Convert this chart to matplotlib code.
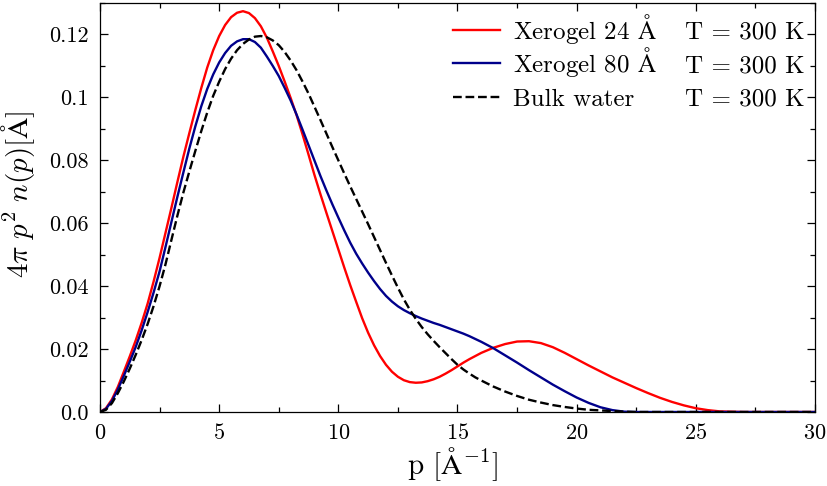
import matplotlib
matplotlib.use("Agg")
import matplotlib.pyplot as plt
from matplotlib.ticker import MultipleLocator, FixedLocator, FixedFormatter
from matplotlib.transforms import IdentityTransform

plt.rcParams['font.family'] = 'serif'
plt.rcParams['font.serif'] = ['cmr10']
plt.rcParams['mathtext.fontset'] = 'cm'
plt.rcParams['axes.formatter.use_mathtext'] = True
plt.rcParams['font.size'] = 16

# ---------------- data ----------------
p = [0.0, 0.25, 0.5, 0.75, 1.0, 1.25, 1.5, 1.75, 2.0, 2.25, 2.5, 2.75, 3.0, 3.25,
     3.5, 3.75, 4.0, 4.25, 4.5, 4.75, 5.0, 5.25, 5.5, 5.75, 6.0, 6.25, 6.5, 6.75,
     7.0, 7.25, 7.5, 7.75, 8.0, 8.25, 8.5, 8.75, 9.0, 9.25, 9.5, 9.75, 10.0,
     10.25, 10.5, 10.75, 11.0, 11.25, 11.5, 11.75, 12.0, 12.25, 12.5, 12.75,
     13.0, 13.25, 13.5, 13.75, 14.0, 14.25, 14.5, 14.75, 15.0, 15.25, 15.5,
     15.75, 16.0,
     16.5, 17.0, 17.5, 18.0, 18.5, 19.0, 19.5, 20.0, 20.5, 21.0, 21.5, 22.0,
     22.5, 23.0, 23.5, 24.0, 24.5, 25.0, 25.5, 26.0, 26.5, 27.0,
     28.0, 29.0, 30.0]

xerogel24 = [0.0, 0.0012, 0.0040, 0.0080, 0.0128, 0.0177, 0.0228, 0.0284, 0.0345,
             0.0415, 0.0490, 0.0570, 0.0650, 0.0732, 0.0812, 0.0887, 0.0960,
             0.1030, 0.1095, 0.1150, 0.1195, 0.1230, 0.1255, 0.1269, 0.1274,
             0.1268, 0.1252, 0.1226, 0.1190, 0.1146, 0.1100, 0.1050, 0.0998,
             0.0943, 0.0882, 0.0818, 0.0753, 0.0692, 0.0633, 0.0575, 0.0517,
             0.0459, 0.0403, 0.0350, 0.0298, 0.0252, 0.0212, 0.0178, 0.0150,
             0.0128, 0.0112, 0.0101, 0.0095, 0.0093, 0.0094, 0.0098, 0.0104,
             0.0112, 0.0122, 0.0133, 0.0145, 0.0157, 0.0168, 0.0178, 0.0188,
             0.0204, 0.0216, 0.0224, 0.0225, 0.0219, 0.0206, 0.0188, 0.0168,
             0.0148, 0.0129, 0.0110, 0.0093, 0.0076, 0.0060, 0.0045, 0.0032,
             0.0021, 0.0012, 0.0006, 0.0002, 0.0001, 0.0,
             0.0, 0.0, 0.0]

xerogel80 = [0.0, 0.0010, 0.0035, 0.0072, 0.0115, 0.0160, 0.0207, 0.0260, 0.0318,
             0.0380, 0.0447, 0.0525, 0.0605, 0.0685, 0.0762, 0.0838, 0.0908,
             0.0972, 0.1027, 0.1073, 0.1111, 0.1141, 0.1164, 0.1178, 0.1185,
             0.1185, 0.1176, 0.1158, 0.1130, 0.1100, 0.1068, 0.1030, 0.0990,
             0.0945, 0.0897, 0.0848, 0.0799, 0.0750, 0.0704, 0.0660, 0.0618,
             0.0577, 0.0538, 0.0503, 0.0472, 0.0443, 0.0416, 0.0391, 0.0369,
             0.0351, 0.0336, 0.0324, 0.0314, 0.0305, 0.0297, 0.0290, 0.0283,
             0.0277, 0.0270, 0.0263, 0.0256, 0.0249, 0.0241, 0.0232, 0.0223,
             0.0203, 0.0180, 0.0157, 0.0133, 0.0110, 0.0087, 0.0066, 0.0046,
             0.0029, 0.0015, 0.0006, 0.0001, 0.0, 0.0, 0.0, 0.0, 0.0, 0.0,
             0.0, 0.0, 0.0, 0.0,
             0.0, 0.0, 0.0]

bulk = [0.0, 0.0007, 0.0028, 0.0060, 0.0097, 0.0138, 0.0182, 0.0229, 0.0280,
        0.0337, 0.0400, 0.0470, 0.0548, 0.0625, 0.0698, 0.0765, 0.0830, 0.0893,
        0.0952, 0.1005, 0.1050, 0.1090, 0.1123, 0.1150, 0.1170, 0.1184, 0.1193,
        0.1195, 0.1191, 0.1181, 0.1166, 0.1144, 0.1117, 0.1086, 0.1050, 0.1012,
        0.0970, 0.0928, 0.0885, 0.0842, 0.0800, 0.0758, 0.0717, 0.0677, 0.0637,
        0.0597, 0.0556, 0.0515, 0.0474, 0.0434, 0.0395, 0.0358, 0.0325, 0.0296,
        0.0270, 0.0247, 0.0226, 0.0206, 0.0187, 0.0168, 0.0150, 0.0135, 0.0122,
        0.0110, 0.0100,
        0.0081, 0.0065, 0.0051, 0.0039, 0.0030, 0.0022, 0.0016, 0.0011, 0.0007,
        0.0005, 0.0003, 0.0001, 0.0, 0.0, 0.0, 0.0, 0.0, 0.0, 0.0, 0.0, 0.0,
        0.0,
        0.0, 0.0, 0.0]

series_labels = [r'Xerogel 24 $\mathrm{\AA}$', r'Xerogel 80 $\mathrm{\AA}$', 'Bulk water']
temp_labels = ['T = 300 K', 'T = 300 K', 'T = 300 K']

ytick_values = [0.0, 0.02, 0.04, 0.06, 0.08, 0.1, 0.12]
ytick_labels = ['0.0', '0.02', '0.04', '0.06', '0.08', '0.1', '0.12']

# ---------------- figure ----------------
fig = plt.figure(figsize=(8.28, 4.86), dpi=100)
ax = fig.add_axes([100/828, 1 - 412/486, 715/828, 409/486])

colors = ['#ff0000', '#00008b', 'black']
styles = ['-', '-', '--']
lines = []
for ys, c, ls in zip([xerogel24, xerogel80, bulk], colors, styles):
    ln, = ax.plot(p, ys, color=c, lw=1.7, ls=ls)
    lines.append(ln)

ax.set_xlim(0, 30)
ax.set_ylim(0, 0.13)
ax.xaxis.set_major_locator(MultipleLocator(5))
ax.xaxis.set_minor_locator(MultipleLocator(2.5))
ax.yaxis.set_major_locator(FixedLocator(ytick_values))
ax.yaxis.set_major_formatter(FixedFormatter(ytick_labels))
ax.yaxis.set_minor_locator(MultipleLocator(0.01))
ax.tick_params(which='both', direction='in', top=True, right=True, width=0.9)
ax.tick_params(which='major', length=6, pad=8, labelsize=16)
ax.tick_params(which='minor', length=3.5)
for s in ax.spines.values():
    s.set_linewidth(0.9)

ax.set_xlabel(r'p [$\mathrm{\AA}^{-1}$]', fontsize=21)
ax.xaxis.set_label_coords((452.5 - 100) / 715, -0.082)
ax.set_ylabel(r'$4\pi\ p^2\ n(p)[\mathrm{\AA}]$', fontsize=21)
ax.yaxis.set_label_coords(-0.088, (412 - 194) / 409)

# legend: handles only (uniform rows); label texts placed on the handle rows
leg = ax.legend(lines, [' ', ' ', ' '], loc='upper left',
                bbox_to_anchor=((453-100)/715, (412-21)/409),
                frameon=False, borderpad=0, borderaxespad=0,
                handlelength=1.9, handletextpad=0.5, labelspacing=0.44,
                fontsize=18)

fig.canvas.draw()
for h, name, temp in zip(leg.legend_handles, series_labels, temp_labels):
    xd, yd = h.get_xdata(), h.get_ydata()
    hx, hy = h.get_transform().transform((xd[0], yd[0]))
    yb = hy - 9.0
    fig.text(513, yb, name, transform=IdentityTransform(), fontsize=18,
             ha='left', va='baseline')
    fig.text(685, yb, temp, transform=IdentityTransform(), fontsize=18,
             ha='left', va='baseline')

fig.savefig('out.png', dpi=100)
